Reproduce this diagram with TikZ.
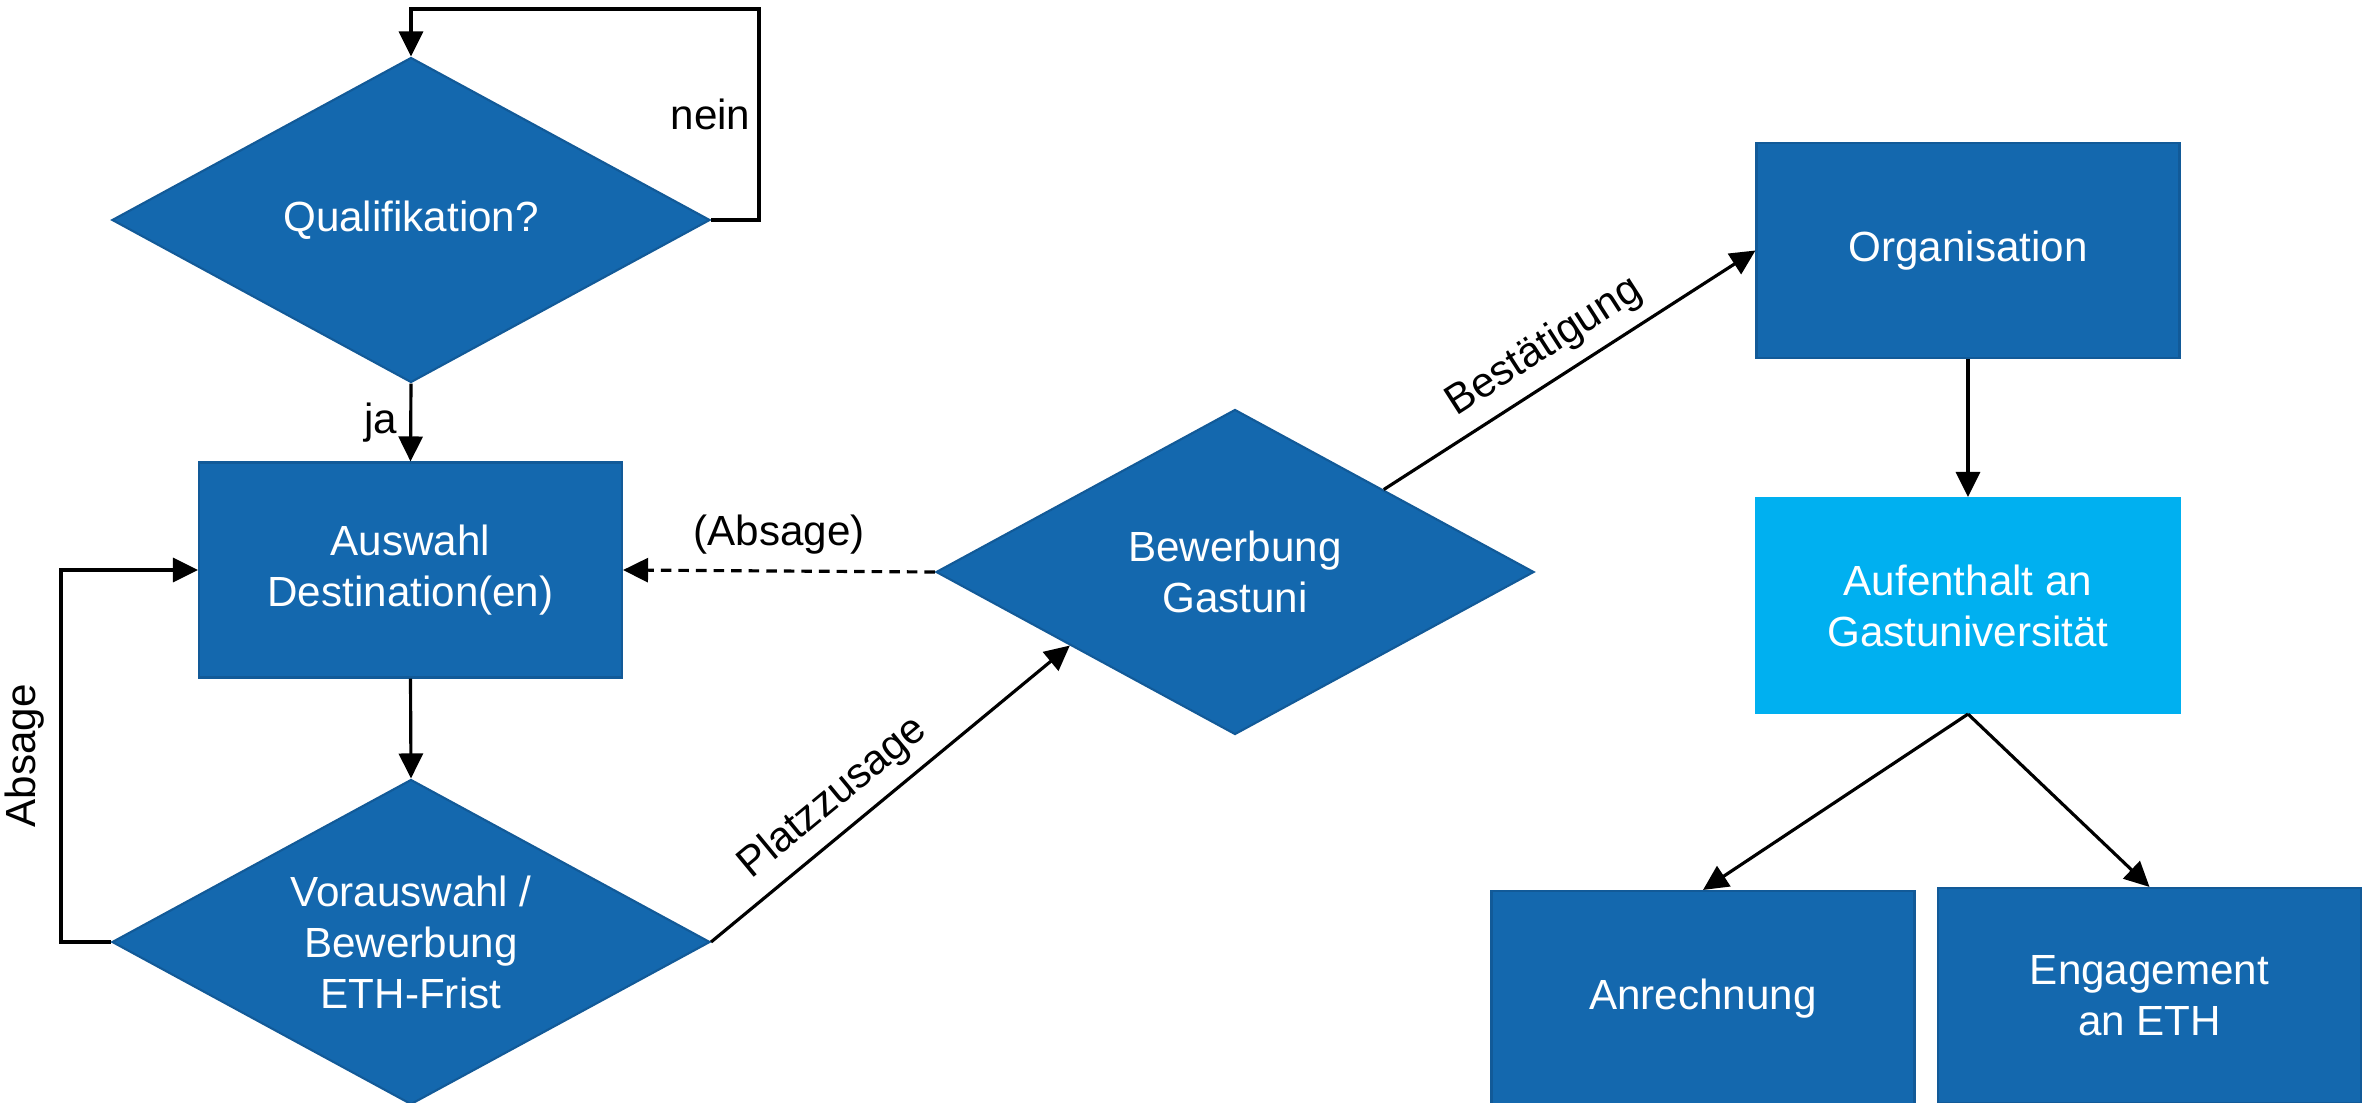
\documentclass[tikz,border=0pt]{standalone}
\usepackage{fontspec}
\setmainfont{Liberation Sans}
\usetikzlibrary{shapes.geometric,arrows.meta}
\definecolor{ethblau}{RGB}{20,104,174}
\definecolor{ethrand}{RGB}{18,90,152}
\definecolor{hellblau}{RGB}{0,176,240}
\tikzset{
	kasten/.style={rectangle,fill=ethblau,draw=ethrand,line width=0.6pt,text=white,
		minimum width=4.23cm,minimum height=2.15cm,align=center,
		font=\fontsize{12}{14.5}\selectfont},
	raute/.style={diamond,fill=ethblau,draw=ethrand,line width=0.6pt,text=white,
		minimum width=5.98cm,minimum height=3.25cm,aspect=1.84,inner sep=1pt,
		align=center,font=\fontsize{12}{14.5}\selectfont},
	pfeil/.style={->,line width=0.9pt}
}
\begin{document}
\begin{tikzpicture}[line join=miter,font=\fontsize{12}{14.5}\selectfont,>={Triangle[length=2.5mm,width=2.4mm]}]
	\useasboundingbox (0,0) rectangle (23.67,-11.03);
	\clip (0,0) rectangle (23.67,-11.03);
	% linke Spalte
	\node[raute] (quali) at (4.11,-2.20) {Qualifikation?};
	\node[kasten] (auswahl) at (4.105,-5.70) {Auswahl\\Destination(en)};
	\node[raute] (vorausw) at (4.11,-9.42) {Vorauswahl /\\Bewerbung\\ETH-Frist};
	% Mitte
	\node[raute] (gastuni) at (12.35,-5.72) {Bewerbung\\Gastuni};
	% rechte Spalte
	\node[kasten] (orga) at (19.68,-2.505) {Organisation};
	\node[kasten,fill=hellblau,draw=hellblau] (aufenthalt) at (19.68,-6.055) {Aufenthalt an\\Gastuniversität};
	\node[kasten] (anrechnung) at (17.03,-9.985) {Anrechnung};
	\node[kasten] (engagement) at (21.495,-9.955) {Engagement\\an ETH};
	% Verbindungen
	\draw[pfeil] (quali.east) -- ++(0.48,0) -- node[left,inner sep=2pt] {nein} ++(0,2.11) -| (quali.north);
	\draw[pfeil] (quali.south) -- node[left] {ja} (auswahl.north);
	\draw[pfeil] (auswahl.south) -- (vorausw.north);
	\draw[pfeil] (vorausw.west) -- ++(-0.5,0) |- node[pos=0.25,sloped,above=1pt] {Absage} (auswahl.west);
	\draw[pfeil] (vorausw.east) -- node[pos=0.40,sloped,above] {Platzzusage} (gastuni.204);
	\draw[pfeil,dash pattern=on 3pt off 2pt] (gastuni.west) -- node[above=1pt] {(Absage)} (auswahl.east);
	\draw[pfeil] (gastuni.29) -- node[pos=0.48,sloped,above] {Bestätigung} (orga.west);
	\draw[pfeil] (orga.south) -- (aufenthalt.north);
	\draw[pfeil] (aufenthalt.south) -- (anrechnung.north);
	\draw[pfeil] (aufenthalt.south) -- (engagement.north);
\end{tikzpicture}
\end{document}
